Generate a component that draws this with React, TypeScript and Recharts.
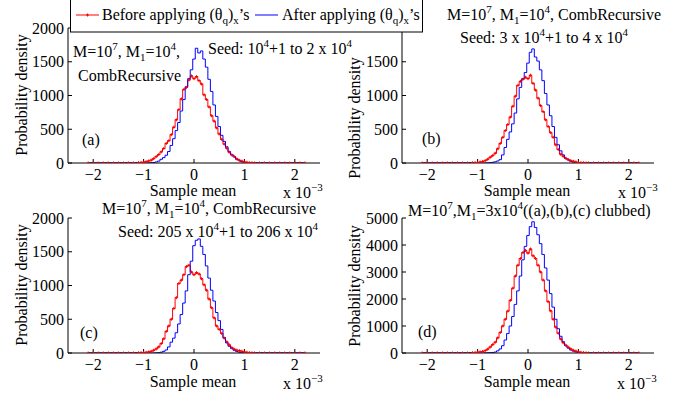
import { LineChart, Line, XAxis, YAxis } from "recharts";

// bin centres of the sample-mean histograms (units of 1e-3)
const bins = [
  -2.1, -2.0, -1.9, -1.8, -1.7, -1.6, -1.5, -1.4, -1.3, -1.2,
  -1.1, -1.05, -1.0, -0.95, -0.9, -0.85, -0.8, -0.75, -0.7, -0.65,
  -0.6, -0.55, -0.5, -0.45, -0.4, -0.35, -0.3, -0.25, -0.2, -0.15,
  -0.1, -0.05, 0, 0.05, 0.1, 0.15, 0.2, 0.25, 0.3, 0.35,
  0.4, 0.45, 0.5, 0.55, 0.6, 0.65, 0.7, 0.75, 0.8, 0.85,
  0.9, 0.95, 1.0, 1.05, 1.1, 1.15, 1.2,
  1.3, 1.4, 1.5, 1.6, 1.7, 1.8, 1.9, 2.0, 2.1, 2.2,
];

const beforeA = [
  0, 0, 0, 0, 0, 0, 0, 0, 0, 0,
  5, 8, 12, 20, 30, 42, 65, 95, 125, 165,
  215, 290, 330, 420, 530, 640, 790, 950, 1090, 1120,
  1230, 1290, 1250, 1280, 1220, 1170, 1010, 940, 830, 700,
  620, 520, 430, 350, 280, 220, 160, 120, 95, 60,
  40, 28, 15, 10, 5, 3, 0,
  0, 0, 0, 0, 0, 0, 0, 0, 0, 0,
];
const afterA = [
  0, 0, 0, 0, 0, 0, 0, 0, 0, 0,
  0, 0, 0, 0, 2, 4, 8, 15, 28, 55,
  80, 115, 170, 260, 360, 480, 600, 770, 940, 1130,
  1250, 1380, 1540, 1700, 1630, 1660, 1540, 1420, 1240, 1060,
  860, 690, 540, 410, 320, 240, 170, 125, 90, 55,
  35, 18, 8, 3, 0, 0, 0,
  0, 0, 0, 0, 0, 0, 0, 0, 0, 0,
];
const beforeB = [
  0, 0, 0, 0, 0, 0, 0, 0, 0, 0,
  3, 5, 8, 14, 22, 35, 55, 85, 110, 145,
  210, 290, 380, 480, 570, 680, 840, 990, 1150, 1210,
  1240, 1270, 1250, 1300, 1180, 1080, 960, 850, 760, 640,
  540, 450, 380, 270, 200, 130, 100, 70, 50, 35,
  25, 15, 8, 5, 3, 0, 0,
  0, 0, 0, 0, 0, 0, 0, 0, 0, 0,
];
const afterB = [
  0, 0, 0, 0, 0, 0, 0, 0, 0, 0,
  0, 0, 0, 0, 0, 0, 2, 5, 10, 18,
  30, 50, 120, 230, 350, 460, 580, 740, 950, 1120,
  1250, 1340, 1480, 1640, 1690, 1570, 1510, 1380, 1220, 1030,
  860, 700, 540, 380, 270, 180, 120, 70, 45, 25,
  12, 5, 2, 0, 0, 0, 0,
  0, 0, 0, 0, 0, 0, 0, 0, 0, 0,
];
const beforeC = [
  0, 0, 0, 0, 0, 0, 0, 0, 0, 0,
  3, 5, 8, 10, 15, 25, 40, 60, 90, 140,
  210, 320, 400, 500, 660, 820, 1030, 1080, 1160, 1280,
  1300, 1200, 1160, 1190, 1170, 1100, 1010, 930, 800, 670,
  520, 400, 350, 290, 220, 165, 120, 80, 55, 42,
  35, 25, 15, 10, 5, 2, 0,
  0, 0, 0, 0, 0, 0, 0, 0, 0, 0,
];
const afterC = [
  0, 0, 0, 0, 0, 0, 0, 0, 0, 0,
  0, 0, 0, 0, 0, 0, 0, 2, 5, 12,
  25, 45, 90, 160, 220, 300, 430, 570, 740, 920,
  1160, 1360, 1590, 1670, 1690, 1580, 1460, 1290, 1110, 930,
  770, 600, 480, 350, 230, 150, 100, 65, 40, 22,
  12, 6, 3, 0, 0, 0, 0,
  0, 0, 0, 0, 0, 0, 0, 0, 0, 0,
];
const beforeD = [
  0, 0, 0, 0, 0, 0, 0, 0, 0, 0,
  10, 18, 28, 40, 55, 90, 140, 220, 310, 400,
  560, 760, 1000, 1250, 1550, 1950, 2400, 2850, 3250, 3500,
  3720, 3800, 3700, 3850, 3600, 3500, 3250, 3000, 2700, 2300,
  1900, 1560, 1250, 960, 730, 520, 380, 290, 210, 150,
  100, 70, 40, 25, 15, 8, 0,
  0, 0, 0, 0, 0, 0, 0, 0, 0, 0,
];
const afterD = [
  0, 0, 0, 0, 0, 0, 0, 0, 0, 0,
  0, 0, 0, 0, 0, 3, 8, 12, 20, 35,
  80, 150, 270, 480, 720, 1000, 1350, 1800, 2300, 2850,
  3450, 3950, 4350, 4680, 4860, 4650, 4380, 4050, 3650, 3150,
  2700, 2200, 1700, 1250, 900, 620, 420, 270, 180, 110,
  70, 40, 20, 10, 5, 0, 0,
  0, 0, 0, 0, 0, 0, 0, 0, 0, 0,
];

const xTicks = [-2, -1, 0, 1, 2];
const yTicksSmall = [0, 500, 1000, 1500, 2000];
// in panel (b) the 2000 label sits under the legend box
const yTicksB = [0, 500, 1000, 1500];
const yTicksBig = [0, 1000, 2000, 3000, 4000, 5000];

const FONT = "'Liberation Serif', 'DejaVu Serif', serif";
const RED = "#ff0000";
const BLUE = "#0000ff";

const fmt = (v: number) => (v < 0 ? `\u2212${-v}` : `${v}`);

const plusDot = (p: any) => {
  const { cx, cy, index } = p;
  if (cx == null || cy == null) return <g key={`pd${index}`} />;
  return (
    <path
      key={`pd${index}`}
      d={`M${cx - 1.5},${cy}H${cx + 1.5}M${cx},${cy - 1.5}V${cy + 1.5}`}
      stroke={RED}
      strokeWidth={1}
      fill="none"
    />
  );
};

function Panel({ left, top, before, after, yMax, yTicks }: any) {
  const rows = bins.map((x, i) => ({ x, before: before[i], after: after[i] }));
  const tick = { fill: "#000", fontSize: 16, fontFamily: FONT };
  return (
    <div style={{ position: "absolute", left, top }}>
      <LineChart width={340} height={200} data={rows} margin={{ top: 28, right: 20, bottom: 7, left: 18 }}>
        <XAxis
          dataKey="x"
          type="number"
          domain={[-2.5, 2.5]}
          ticks={xTicks}
          tickFormatter={fmt}
          height={30}
          tickSize={-4}
          tickMargin={10}
          tick={tick}
          stroke="#000"
          allowDataOverflow
        />
        <YAxis
          type="number"
          domain={[0, yMax]}
          ticks={yTicks}
          width={50}
          tickSize={-4}
          tickMargin={8}
          tick={tick}
          stroke="#000"
          allowDataOverflow
        />
        <Line dataKey="before" type="step" stroke={RED} strokeWidth={1} dot={plusDot} isAnimationActive={false} />
        <Line dataKey="after" type="step" stroke={BLUE} strokeWidth={1} dot={false} isAnimationActive={false} />
      </LineChart>
    </div>
  );
}

type Part = [string, number];

function Rich({ x, y, parts, anchor = "start" }: { x: number; y: number; parts: Part[]; anchor?: string }) {
  let prev = 0;
  return (
    <text x={x} y={y} textAnchor={anchor} fontFamily={FONT} fontSize={16} fill="#000">
      {parts.map(([t, o], i) => {
        const shift = o < 0 ? -7 : o > 0 ? 4 : 0;
        const dy = shift - prev;
        prev = shift;
        return (
          <tspan key={i} dy={dy} fontSize={o ? 11 : 16}>
            {t}
          </tspan>
        );
      })}
    </text>
  );
}

const titleTop: Part[] = [["M=10", 0], ["7", -1], [", M", 0], ["1", 1], ["=10", 0], ["4", -1], [", CombRecursive", 0]];

function Overlay() {
  const txt = { fontFamily: FONT, fontSize: 16, fill: "#000" };
  const ylabel = (x: number, y: number) => (
    <text {...txt} x={x} y={y} textAnchor="middle" transform={`rotate(-90 ${x} ${y})`}>
      Probability density
    </text>
  );
  const xlabel = (x: number, y: number) => (
    <text {...txt} x={x} y={y} textAnchor="middle">
      Sample mean
    </text>
  );
  const scale = (x: number, y: number) => <Rich x={x} y={y} parts={[["x 10", 0], ["\u22123", -1]]} />;
  return (
    <svg width={697} height={401} style={{ position: "absolute", left: 0, top: 0, pointerEvents: "none" }}>
      {ylabel(27, 95)}
      {ylabel(360, 118)}
      {ylabel(27, 285)}
      {ylabel(360, 286)}
      {xlabel(193, 196)}
      {xlabel(527, 196)}
      {xlabel(193, 387)}
      {xlabel(527, 387)}
      {scale(283, 198)}
      {scale(618, 198)}
      {scale(283, 389)}
      {scale(617, 389)}

      <Rich x={73} y={57} parts={[["M=10", 0], ["7", -1], [", M", 0], ["1", 1], ["=10", 0], ["4", -1], [",", 0]]} />
      <text {...txt} x={78} y={81}>CombRecursive</text>
      <Rich x={208} y={54} parts={[["Seed: 10", 0], ["4", -1], ["+1 to 2 x 10", 0], ["4", -1]]} />
      <text {...txt} x={82} y={145}>(a)</text>

      <Rich x={447} y={20} parts={titleTop} />
      <Rich x={460} y={43} parts={[["Seed: 3 x 10", 0], ["4", -1], ["+1 to 4 x 10", 0], ["4", -1]]} />
      <text {...txt} x={422} y={144}>(b)</text>

      <Rich x={102} y={214} parts={titleTop} />
      <Rich x={118} y={237} parts={[["Seed: 205 x 10", 0], ["4", -1], ["+1 to 206 x 10", 0], ["4", -1]]} />
      <text {...txt} x={80} y={338}>(c)</text>

      <Rich
        x={408}
        y={216}
        parts={[["M=10", 0], ["7", -1], [",M", 0], ["1", 1], ["=3x10", 0], ["4", -1], ["((a),(b),(c) clubbed)", 0]]}
      />
      <text {...txt} x={418} y={337}>(d)</text>

      {/* legend */}
      <rect x={70.5} y={-2} width={352} height={34} fill="#fff" stroke="#000" strokeWidth={1} />
      <line x1={76} y1={15} x2={99} y2={15} stroke={RED} strokeWidth={1} />
      <path d="M86,15H89M87.5,13.5V16.5" stroke={RED} strokeWidth={1} />
      <Rich x={102} y={20} parts={[["Before applying (\u03b8", 0], ["q", 1], [")", 0], ["x", 1], ["\u2019s", 0]]} />
      <line x1={255} y1={15} x2={278} y2={15} stroke={BLUE} strokeWidth={1} />
      <Rich x={282} y={20} parts={[["After applying (\u03b8", 0], ["q", 1], [")", 0], ["x", 1], ["\u2019s", 0]]} />
    </svg>
  );
}

export default function App() {
  return (
    <div style={{ position: "absolute", left: 0, top: 0, width: 697, height: 401, background: "#fff", overflow: "hidden" }}>
      <Panel left={0} top={0} before={beforeA} after={afterA} yMax={2000} yTicks={yTicksSmall} />
      <Panel left={334} top={0} before={beforeB} after={afterB} yMax={2000} yTicks={yTicksB} />
      <Panel left={0} top={190} before={beforeC} after={afterC} yMax={2000} yTicks={yTicksSmall} />
      <Panel left={334} top={190} before={beforeD} after={afterD} yMax={5000} yTicks={yTicksBig} />
      <Overlay />
    </div>
  );
}
